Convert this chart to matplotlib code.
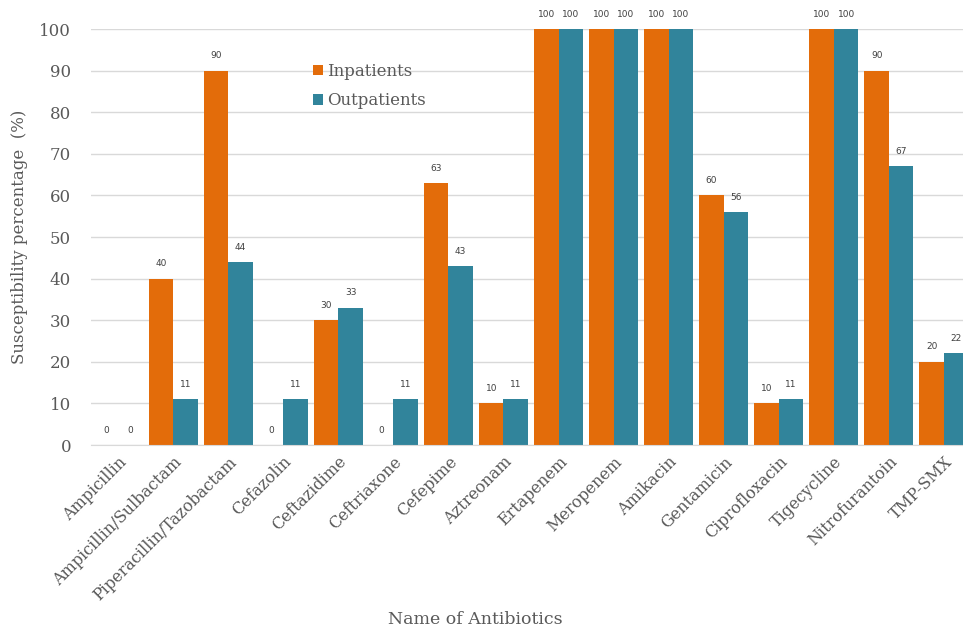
import matplotlib
matplotlib.use("Agg")
import matplotlib.pyplot as plt
import numpy as np

antibiotics = ["Ampicillin", "Ampicillin/Sulbactam", "Piperacillin/Tazobactam", "Cefazolin",
               "Ceftazidime", "Ceftriaxone", "Cefepime", "Aztreonam", "Ertapenem", "Meropenem",
               "Amikacin", "Gentamicin", "Ciprofloxacin", "Tigecycline", "Nitrofurantoin", "TMP-SMX"]
inpatients = [0, 40, 90, 0, 30, 0, 63, 10, 100, 100, 100, 60, 10, 100, 90, 20]
outpatients = [0, 11, 44, 11, 33, 11, 43, 11, 100, 100, 100, 56, 11, 100, 67, 22]
y_ticks = [0, 10, 20, 30, 40, 50, 60, 70, 80, 90, 100]

orange = "#E36C0A"
teal = "#31849B"
text_col = "#595959"
plt.rcParams["font.family"] = ["DejaVu Serif"]

fig = plt.figure(figsize=(9.63, 6.35), dpi=100)
ax = fig.add_axes([90.5 / 963, 1 - 445 / 635, 881 / 963, 416 / 635])

x = np.arange(len(antibiotics))
w = 0.445
b1 = ax.bar(x - w / 2, inpatients, w, color=orange, label="Inpatients")
b2 = ax.bar(x + w / 2, outpatients, w, color=teal, label="Outpatients")

for bars, vals in ((b1, inpatients), (b2, outpatients)):
    for bar, v in zip(bars, vals):
        ax.text(bar.get_x() + bar.get_width() / 2, v + 2.5, f"{v}", ha="center", va="bottom",
                fontsize=6.5, color="#404040", family="DejaVu Sans")

ax.set_xlim(-0.5, len(antibiotics) - 0.5)
ax.set_ylim(0, 100)
ax.set_yticks(y_ticks)
ax.yaxis.grid(True, color="#D9D9D9", linewidth=1)
ax.set_axisbelow(True)
for s in ["top", "right", "left"]:
    ax.spines[s].set_visible(False)
ax.spines["bottom"].set_color("#D9D9D9")
ax.tick_params(axis="both", length=0, colors=text_col, labelsize=12)
ax.tick_params(axis="y", pad=14)
ax.tick_params(axis="x", pad=6)
ax.set_xticks(x)
ax.set_xticklabels(antibiotics, rotation=45, ha="right", rotation_mode="anchor",
                   fontsize=11.5, color=text_col)

fig.text(20 / 963, 1 - 237 / 635, "Susceptibility percentage  (%)", rotation=90,
         ha="center", va="center", fontsize=12, color=text_col)
fig.text(475 / 963, 1 - 620 / 635, "Name of Antibiotics", ha="center", va="center",
         fontsize=12.5, color=text_col)

leg = ax.legend(loc="upper left", bbox_to_anchor=(0.235, 0.955), frameon=False,
                handlelength=0.6, handleheight=0.6, handletextpad=0.3, fontsize=12,
                labelspacing=0.75, labelcolor=text_col)

fig.savefig("out.png", dpi=100)
